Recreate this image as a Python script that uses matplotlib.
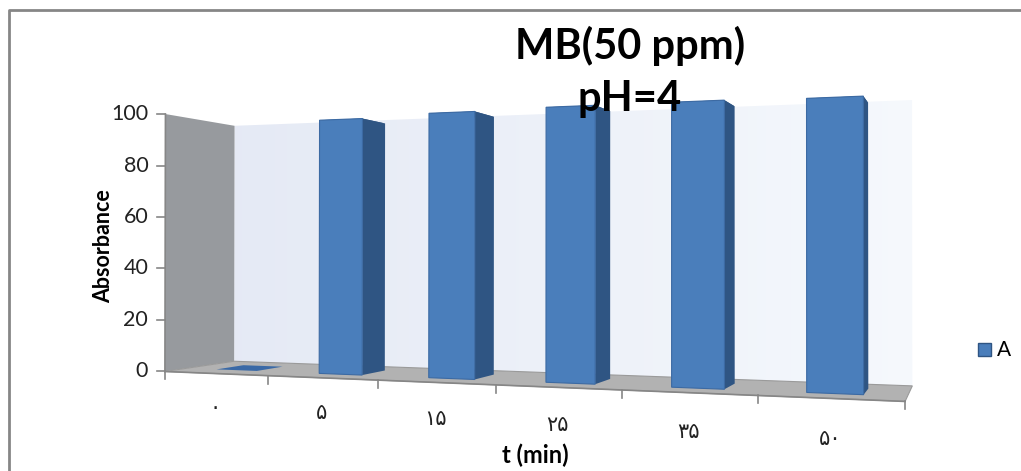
import numpy as np
import matplotlib
matplotlib.use("Agg")
import matplotlib.pyplot as plt
from matplotlib.patches import Polygon, Rectangle

# data
categories = ["\u06f0", "\u06f5", "\u06f1\u06f5", "\u06f2\u06f5", "\u06f3\u06f5", "\u06f5\u06f0"]
absorbance = [0, 97, 98, 98.5, 98.5, 98]
y_ticks = [0, 20, 40, 60, 80, 100]
y_max = 100

title_lines = ["MB(50 ppm)", "pH=4"]
x_label = "t (min)"
y_label = "Absorbance"
legend_label = "A"

# colours
bar_front = "#4a7ebb"
bar_side = "#2f5583"
bar_flat = "#3a69a6"
left_wall = "#979a9e"
floor_col = "#b2b2b2"
axis_grey = "#868686"

W, H = 1021, 471

# layout of the 3d box: world (category, value fraction, depth) -> pixel
n = len(categories)
frame_world = [(0, 0, 0), (0, 1, 0), (0, 0, 1), (0, 1, 1),
               (n, 0, 1), (n, 1, 1), (n, 0, 0),
               (1, 0, 0), (3, 0, 0), (5, 0, 0)]
frame_pixel = [(165, 371), (165, 115), (234, 362), (235, 125),
               (912, 386), (912, 100), (905, 401),
               (268, 375), (495, 385), (759, 396)]


def fit_camera(world, pix):
    rows = []
    for (X, Y, Z), (u, v) in zip(world, pix):
        u, v = u / 500.0, v / 500.0
        rows.append([X, Y, Z, 1, 0, 0, 0, 0, -u * X, -u * Y, -u * Z, -u])
        rows.append([0, 0, 0, 0, X, Y, Z, 1, -v * X, -v * Y, -v * Z, -v])
    _, _, vt = np.linalg.svd(np.array(rows, float))
    return vt[-1].reshape(3, 4)


CAM = fit_camera(frame_world, frame_pixel)


def proj(X, Y, Z):
    p = CAM @ np.array([X, Y, Z, 1.0])
    return p[0] / p[2] * 500.0, p[1] / p[2] * 500.0


def face(ax, pts, color, z=2, **kw):
    poly = Polygon([proj(*p) for p in pts], closed=True, facecolor=color,
                   edgecolor=kw.pop("ec", "none"), lw=kw.pop("lw", 0), zorder=z, **kw)
    ax.add_patch(poly)
    return poly


fig = plt.figure(figsize=(W / 100, H / 100), dpi=100)
ax = fig.add_axes([0, 0, 1, 1])
ax.set_xlim(0, W)
ax.set_ylim(H, 0)
ax.axis("off")

# chart frame (only top and left visible)
ax.plot([9, 9, W], [H, 10, 10], color=axis_grey, lw=2, zorder=1)

# back wall with a soft gradient
back = face(ax, [(0, 0, 1), (n, 0, 1), (n, 1, 1), (0, 1, 1)], "none", z=1)
grad = np.linspace(0, 1, 256).reshape(1, -1)
cmap = matplotlib.colors.LinearSegmentedColormap.from_list("wall", ["#e3e8f4", "#f6f9fd"])
im = ax.imshow(grad, cmap=cmap, extent=[150, 930, 420, 80], aspect="auto", zorder=1)
im.set_clip_path(back)

# left wall and floor
face(ax, [(0, 0, 0), (0, 0, 1), (0, 1, 1), (0, 1, 0)], left_wall, z=1.5)
face(ax, [(0, 0, 0), (n, 0, 0), (n, 0, 1), (0, 0, 1)], floor_col, z=1.5,
     ec="#9a9a9a", lw=0.8)

# value axis along the front-left edge
xa0, ya0 = proj(0, 0, 0)
xa1, ya1 = proj(0, 1, 0)
ax.plot([xa0, xa1], [ya0, ya1], color=axis_grey, lw=1.2, zorder=3)
for t in y_ticks:
    tx, ty = proj(0, t / y_max, 0)
    ax.plot([tx - 8, tx], [ty, ty], color=axis_grey, lw=1.2, zorder=3)
    ax.text(tx - 17, ty, str(t), ha="right", va="center", fontsize=15.5,
            family="Lato", color="#222222")

# category axis along the front floor edge
fx0, fy0 = proj(0, 0, 0)
fx1, fy1 = proj(n, 0, 0)
ax.plot([fx0, fx1], [fy0, fy1], color=axis_grey, lw=1.2, zorder=3)
for k in range(n + 1):
    tx, ty = proj(k, 0, 0)
    ax.plot([tx, tx], [ty, ty + 8], color=axis_grey, lw=1.2, zorder=3)
for k, lab in enumerate(categories):
    lx, ly = proj(k + 0.5, -0.13, 0)
    ax.text(lx, ly, lab, ha="center", va="center", fontsize=15,
            family=["DejaVu Sans"], color="#222222")

# bars
bw, z0, z1 = 0.4, 0.3, 0.7
for i, val in enumerate(absorbance):
    x0 = i + 0.5 - bw / 2
    x1 = i + 0.5 + bw / 2
    v = val / y_max
    if v <= 0:
        face(ax, [(x0, 0, z0), (x1, 0, z0), (x1, 0, z1), (x0, 0, z1)], bar_flat, z=4)
        continue
    face(ax, [(x0, v, z0), (x1, v, z0), (x1, v, z1), (x0, v, z1)], bar_side, z=4)
    face(ax, [(x1, 0, z0), (x1, 0, z1), (x1, v, z1), (x1, v, z0)], bar_side, z=4.1)
    face(ax, [(x0, 0, z0), (x1, 0, z0), (x1, v, z0), (x0, v, z0)], bar_front, z=4.2,
         ec="#3c6aa3", lw=0.8)

# texts
ax.text(630, 46, title_lines[0], ha="center", va="center", fontsize=30,
        family="Lato", fontweight="bold", zorder=10)
ax.text(630, 99, title_lines[1], ha="center", va="center", fontsize=30,
        family="Lato", fontweight="bold", zorder=10)
ax.text(535, 455, x_label, ha="center", va="center", fontsize=17,
        family="Lato", fontweight="bold")
ax.text(104, 246, y_label, ha="center", va="center", fontsize=15.5,
        family="Lato", fontweight="bold", rotation=90)

# legend
ax.add_patch(Rectangle((978, 343), 13, 13, facecolor=bar_front, edgecolor="#2f5583", lw=1))
ax.text(997, 350, legend_label, ha="left", va="center", fontsize=15, family="Lato")

fig.savefig("out.png", dpi=100)
